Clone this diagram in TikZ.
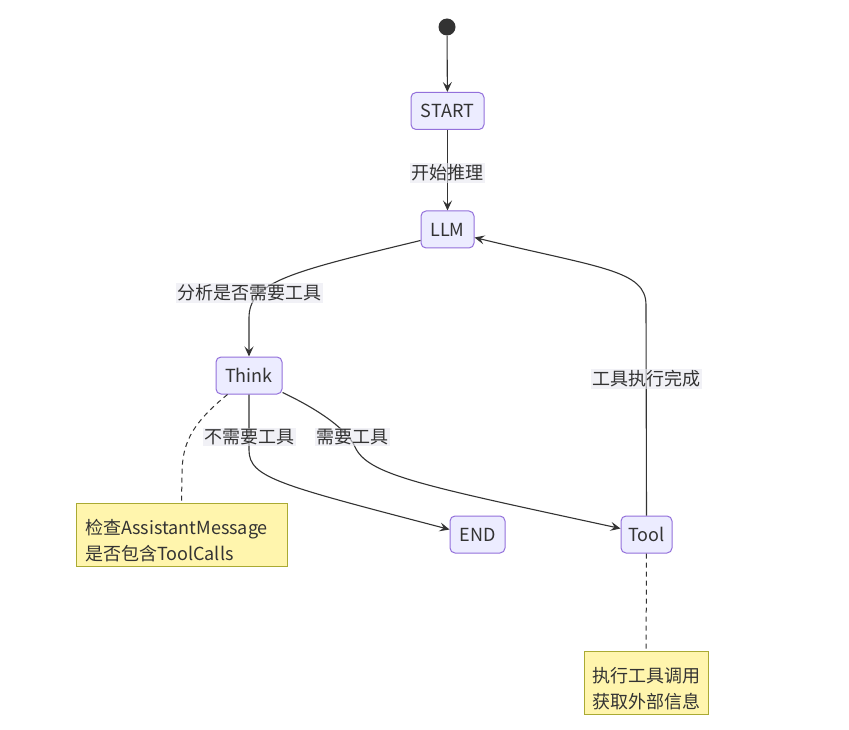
\documentclass[tikz,border=0pt]{standalone}
\usepackage{fontspec}
\setmainfont{Noto Sans CJK SC}
\usetikzlibrary{arrows.meta}
\definecolor{nodefill}{HTML}{ECECFF}
\definecolor{nodedraw}{HTML}{9370DB}
\definecolor{notefill}{HTML}{FFF5AD}
\definecolor{notedraw}{HTML}{AAAA33}
\definecolor{ink}{HTML}{333333}
\definecolor{lblfill}{HTML}{E8E8F0}
\begin{document}
\begin{tikzpicture}[x=1pt,y=-1pt,
 statebox/.style={draw=nodedraw, fill=nodefill, rounded corners=5pt, line width=1pt, minimum height=37pt, inner sep=0pt, text=ink, font=\fontsize{18}{20}\selectfont},
 notebox/.style={draw=notedraw, fill=notefill, line width=1pt, minimum height=63pt, inner ysep=0pt, text=ink, font=\fontsize{18}{26}\selectfont},
 elabel/.style={fill=lblfill, fill opacity=0.6, text opacity=1, text=ink, inner sep=1.5pt, font=\fontsize{18}{20}\selectfont},
 flow/.style={draw=ink, line width=1.1pt, -{Stealth[length=10pt,width=9pt,inset=4pt]}},
 link/.style={draw=ink, line width=1pt, dash pattern=on 5pt off 4pt}
]
\useasboundingbox[fill=white] (0,0) rectangle (849,730);

\node[circle, fill=ink, minimum size=17pt, inner sep=0pt] (init) at (447,27) {};
\node[statebox, minimum width=73pt] (start) at (447.5,111) {START};
\node[statebox, minimum width=53pt] (llm) at (447.5,229.5) {LLM};
\node[statebox, minimum width=66pt] (think) at (249,375.5) {Think};
\node[statebox, minimum width=55pt] (end) at (477.5,534.5) {END};
\node[statebox, minimum width=51pt] (tool) at (646.5,534.5) {Tool};
\node[notebox, text width=193pt, inner xsep=9pt, align=left] (note1) at (181.5,534.5) {\rule{0pt}{27pt}检查AssistantMessage\\是否包含ToolCalls};
\node[notebox, text width=110pt, inner xsep=7pt, align=center] (note2) at (646,682.5) {\rule{0pt}{27pt}执行工具调用\\获取外部信息};

\draw[flow] (init) -- (start);
\draw[flow] (start) -- (llm);
\draw[flow] ([yshift=8pt]llm.south west) .. controls (290,272) and (249,282) .. (249,318) -- (think.north);
\draw[flow] (think.south) -- (249,450) .. controls (249,478) and (280,485) .. ([yshift=5pt]end.west);
\draw[flow] ([yshift=2pt]think.south east) .. controls (330,415) and (350,435) .. (355,447) .. controls (368,475) and (420,485) .. ([yshift=6pt]tool.west);
\draw[flow] (tool.north) -- (646,305) .. controls (646,270) and (600,268) .. ([yshift=-8pt]llm.east);
\draw[link] ([xshift=12pt]think.south west) .. controls (190,425) and (182,445) .. (182,475) -- (note1.north);
\draw[link] (tool) -- (note2);

\node[elabel] (l1) at (447,173) {开始推理};
\node[elabel] (l2) at (249,293) {分析是否需要工具};
\node[elabel] (l3) at (249,437) {不需要工具};
\node[elabel] (l4) at (352,437) {需要工具};
\node[elabel] (l5) at (646,379) {工具执行完成};
\end{tikzpicture}
\end{document}
